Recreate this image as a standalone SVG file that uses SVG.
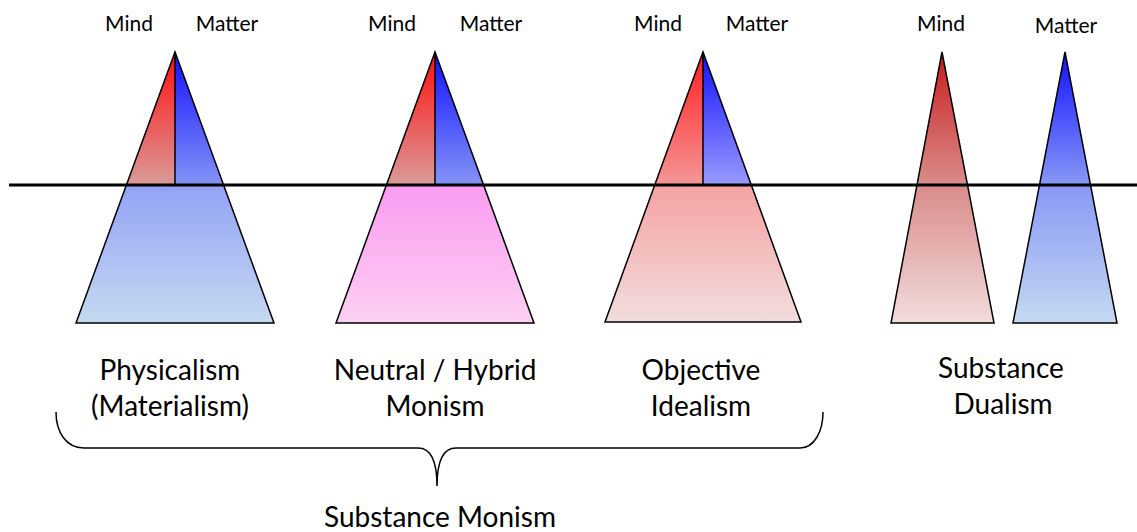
<svg xmlns="http://www.w3.org/2000/svg" width="1137" height="532" viewBox="0 0 1137 532">
<defs>
<linearGradient id="redTop" x1="0" y1="0" x2="0" y2="1"><stop offset="0" stop-color="#ff0f0f"/><stop offset="1" stop-color="#d99b99"/></linearGradient>
<linearGradient id="blueTop" x1="0" y1="0" x2="0" y2="1"><stop offset="0" stop-color="#1010ff"/><stop offset="1" stop-color="#8494f6"/></linearGradient>
<linearGradient id="blueBot" x1="0" y1="0" x2="0" y2="1"><stop offset="0" stop-color="#93a2f6"/><stop offset="1" stop-color="#c5d9f0"/></linearGradient>
<linearGradient id="pinkBot" x1="0" y1="0" x2="0" y2="1"><stop offset="0" stop-color="#f99cf0"/><stop offset="1" stop-color="#fdd0f4"/></linearGradient>
<linearGradient id="redTop3" x1="0" y1="0" x2="0" y2="1"><stop offset="0" stop-color="#ff1e1e"/><stop offset="1" stop-color="#f59696"/></linearGradient>
<linearGradient id="blueTop3" x1="0" y1="0" x2="0" y2="1"><stop offset="0" stop-color="#1010ff"/><stop offset="1" stop-color="#9a9aff"/></linearGradient>
<linearGradient id="redBot3" x1="0" y1="0" x2="0" y2="1"><stop offset="0" stop-color="#f5a2a2"/><stop offset="1" stop-color="#f2dddd"/></linearGradient>
<linearGradient id="mindDual" gradientUnits="userSpaceOnUse" x1="0" y1="52" x2="0" y2="323"><stop offset="0" stop-color="#c81c1c"/><stop offset="0.49" stop-color="#d98c8a"/><stop offset="1" stop-color="#f2dcdc"/></linearGradient>
<linearGradient id="matterDual" gradientUnits="userSpaceOnUse" x1="0" y1="52" x2="0" y2="323"><stop offset="0" stop-color="#1010ff"/><stop offset="0.49" stop-color="#8898f6"/><stop offset="1" stop-color="#c5d9f0"/></linearGradient>
<style>
.edge{stroke:#000;stroke-width:1.5;stroke-linejoin:miter}
.outline{fill:none;stroke:#000;stroke-width:1.5}
.div{stroke:#000;stroke-width:1.5}
.lbl{font-family:Lato,"Open Sans",sans-serif;font-size:21px;fill:#000;text-anchor:middle}
.big{font-family:Lato,"Open Sans",sans-serif;font-size:28px;fill:#000;text-anchor:middle}
.brace{fill:none;stroke:#000;stroke-width:1.5}
</style>
</defs>
<rect width="1137" height="532" fill="#fff"/>

<g id="physicalism">
<polygon points="175,52 126.4,185 175,185" fill="url(#redTop)"/>
<polygon points="175,52 175,185 223.6,185" fill="url(#blueTop)"/>
<polygon points="126.4,185 223.6,185 274,323 76,323" fill="url(#blueBot)"/>
<polygon class="outline" points="175,52 274,323 76,323"/>
<line class="div" x1="175" y1="52" x2="175" y2="185"/>
<text class="lbl" x="129" y="31">Mind</text>
<text class="lbl" x="227" y="31">Matter</text>
<text class="big" x="170" y="380">Physicalism</text>
<text class="big" x="170" y="416">(Materialism)</text>
</g>

<g id="neutral">
<polygon points="435,52 386.4,185 435,185" fill="url(#redTop)"/>
<polygon points="435,52 435,185 483.6,185" fill="url(#blueTop)"/>
<polygon points="386.4,185 483.6,185 534,323 336,323" fill="url(#pinkBot)"/>
<polygon class="outline" points="435,52 534,323 336,323"/>
<line class="div" x1="435" y1="52" x2="435" y2="185"/>
<text class="lbl" x="392" y="31">Mind</text>
<text class="lbl" x="491" y="31">Matter</text>
<text class="big" x="435" y="380">Neutral / Hybrid</text>
<text class="big" x="435" y="416">Monism</text>
</g>

<g id="idealism">
<polygon points="703,52 654.7,185 703,185" fill="url(#redTop3)"/>
<polygon points="703,52 703,185 751.3,185" fill="url(#blueTop3)"/>
<polygon points="654.7,185 751.3,185 801,322 605,322" fill="url(#redBot3)"/>
<polygon class="outline" points="703,52 801,322 605,322"/>
<line class="div" x1="703" y1="52" x2="703" y2="185"/>
<text class="lbl" x="658" y="31">Mind</text>
<text class="lbl" x="757" y="31">Matter</text>
<text class="big" x="701" y="380">Objective</text>
<text class="big" x="701" y="416">Idealism</text>
</g>

<g id="dualism">
<polygon class="edge" points="942,52 994,323 891,323" fill="url(#mindDual)"/>
<polygon class="edge" points="1065,52 1117,323 1013,323" fill="url(#matterDual)"/>
<text class="lbl" x="941" y="31">Mind</text>
<text class="lbl" x="1066" y="33">Matter</text>
<text class="big" x="1001" y="378">Substance</text>
<text class="big" x="1003" y="414">Dualism</text>
</g>

<g id="connectors">
<line x1="9" y1="185" x2="1137" y2="185" stroke="#000" stroke-width="3"/>
<path class="brace" d="M56,412 C56,432 66,448 84,448 L418,448 C432,448 437,462 437,486 C437,462 442,448 456,448 L800,448 C814,448 823,432 823,412"/>
</g>

<g id="monism-label">
<text class="big" x="440" y="527">Substance Monism</text>
</g>
</svg>
